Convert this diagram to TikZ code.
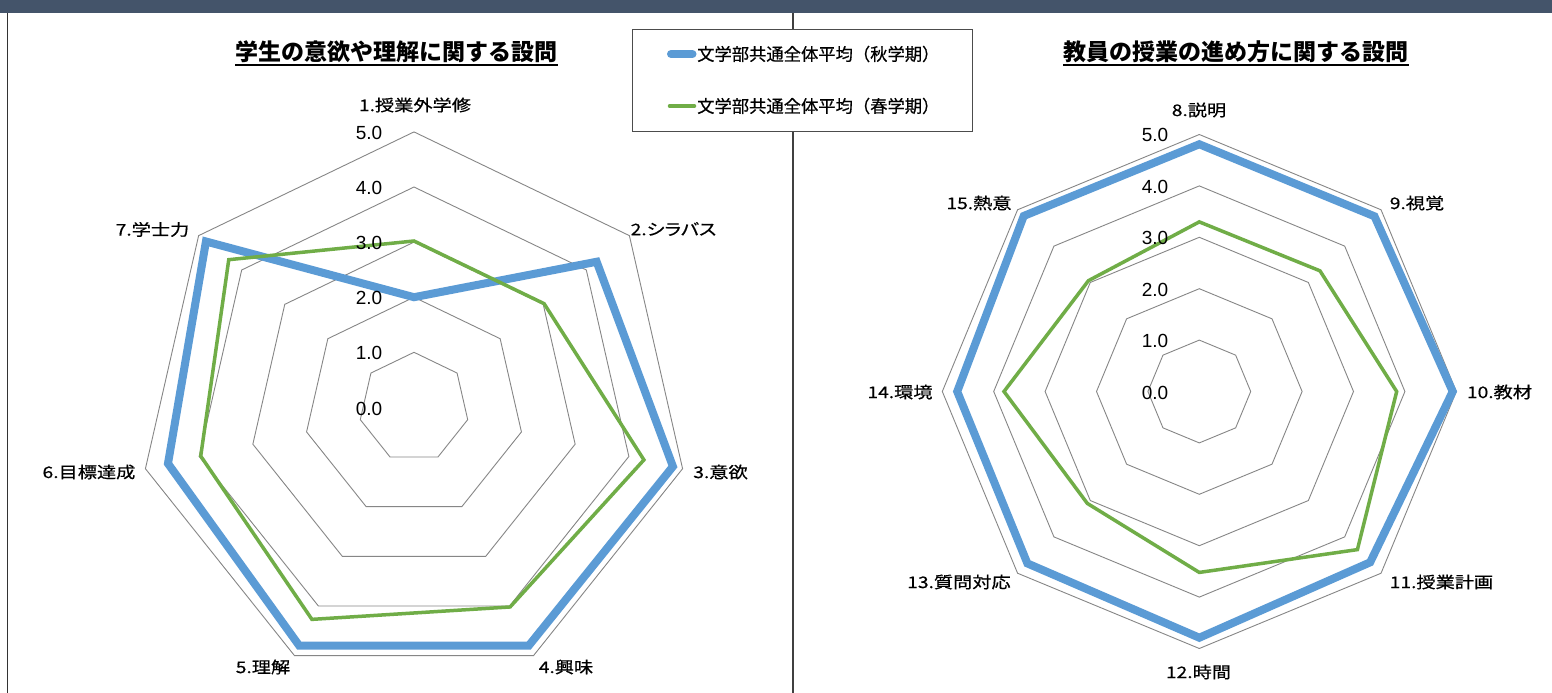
\documentclass[tikz,border=0pt]{standalone}
\usepackage{fontspec}
\setmainfont{Noto Sans CJK JP}
\newfontfamily\labfont[FakeStretch=1.2,FakeBold=0.6]{Noto Sans CJK JP}
\newfontfamily\legfont[FakeBold=0.5]{Noto Sans CJK JP}
\newfontfamily\numfont{Liberation Sans}
\definecolor{barc}{HTML}{44546A}
\definecolor{serA}{HTML}{5B9BD5}
\definecolor{serB}{HTML}{70AD47}
\definecolor{ringc}{HTML}{868686}
\begin{document}
\begin{tikzpicture}[x=1pt,y=-1pt,
  ring/.style={draw=ringc, line width=0.9pt},
  serblue/.style={draw=serA, line width=8pt, line join=miter},
  sergreen/.style={draw=serB, line width=3.5pt, line join=miter},
  axlab/.style={font=\labfont\fontsize{16}{18}\selectfont, inner sep=0pt},
  tick/.style={font=\numfont\fontsize{19}{22}\selectfont, inner sep=0pt},
  ttl/.style={font=\bfseries\fontsize{23}{26}\selectfont, inner sep=0pt, anchor=base},
  legtxt/.style={font=\legfont\fontsize{17.3}{20}\selectfont, inner sep=0pt, anchor=west},
  uline/.style={line width=1.8pt, draw=black}]
\useasboundingbox (0,0) rectangle (1552,693);
\fill[white] (0,0) rectangle (1552,693);
\fill[barc] (0,0) rectangle (1552,13);
\draw[line width=1.6pt, draw=black!80] (7.5,13) -- (7.5,693);
\draw[line width=1.2pt, draw=black!75] (793,13) -- (793,693);

% ---------- left chart ----------
\begin{scope}[shift={(414,407.4)}]
  \foreach \r in {1,...,5}{
    \draw[ring] (90:{\r*55.1pt}) \foreach \k in {1,...,6}{ -- ({90-\k*360/7}:{\r*55.1pt})} -- cycle;
  }
  \foreach \v [count=\k from 0] in {2.0,4.24,4.82,4.8,4.8,4.58,4.83}
    \coordinate (LB\k) at ({90-\k*360/7}:{\v*55.1pt});
  \foreach \v [count=\k from 0] in {3.02,3.02,4.28,4.02,4.27,3.97,4.3}
    \coordinate (LG\k) at ({90-\k*360/7}:{\v*55.1pt});
  \draw[serblue] (LB0) \foreach \k in {1,...,6}{ -- (LB\k)} -- cycle;
  \draw[sergreen] (LG0) \foreach \k in {1,...,6}{ -- (LG\k)} -- cycle;
\end{scope}
\foreach \t/\yy in {0/408.5, 1/352.5, 2/298, 3/243, 4/188, 5/133}
  \node[tick] (lt\t) at (369,\yy) {\t.0};
\node[axlab] (la1) at (415,105) {1.授業外学修};
\node[axlab] (la2) at (673.5,229) {\addfontfeatures{RawFeature=+palt}2.シラバス};
\node[axlab] (la3) at (720.5,472) {3.意欲};
\node[axlab] (la4) at (566,667) {4.興味};
\node[axlab] (la5) at (263,667) {5.理解};
\node[axlab] (la6) at (89,472) {6.目標達成};
\node[axlab] (la7) at (152.5,229.5) {7.学士力};
\node[ttl] (t1) at (396.5,60) {学生の意欲や理解に関する設問};
\draw[uline] ([yshift=-5pt]t1.base west) -- ([yshift=-5pt]t1.base east);

% ---------- right chart ----------
\begin{scope}[shift={(1199.3,391.5)}]
  \foreach \r in {1,...,5}{
    \draw[ring] (90:{\r*51.4pt}) \foreach \k in {1,...,7}{ -- ({90-\k*45}:{\r*51.4pt})} -- cycle;
  }
  \foreach \v [count=\k from 0] in {4.81,4.82,4.93,4.7,4.79,4.73,4.71,4.83}
    \coordinate (RB\k) at ({90-\k*45}:{\v*51.4pt});
  \foreach \v [count=\k from 0] in {3.3,3.32,3.84,4.35,3.52,3.08,3.8,3.05}
    \coordinate (RG\k) at ({90-\k*45}:{\v*51.4pt});
  \draw[serblue] (RB0) \foreach \k in {1,...,7}{ -- (RB\k)} -- cycle;
  \draw[sergreen] (RG0) \foreach \k in {1,...,7}{ -- (RG\k)} -- cycle;
\end{scope}
\foreach \t/\yy in {0/393, 1/341, 2/290, 3/238, 4/187, 5/135}
  \node[tick] (rt\t) at (1155,\yy) {\t.0};
\node[axlab] (ra8) at (1199,110) {8.説明};
\node[axlab] (ra9) at (1417,203) {9.視覚};
\node[axlab] (ra10) at (1499.5,392) {10.教材};
\node[axlab] (ra11) at (1441.5,582) {11.授業計画};
\node[axlab] (ra12) at (1198.5,672) {12.時間};
\node[axlab] (ra13) at (959,582) {13.質問対応};
\node[axlab] (ra14) at (900,392) {14.環境};
\node[axlab] (ra15) at (979,203) {15.熱意};
\node[ttl] (t2) at (1236,60) {教員の授業の進め方に関する設問};
\draw[uline] ([yshift=-5pt]t2.base west) -- ([yshift=-5pt]t2.base east);

% ---------- legend ----------
\node[draw=black!70, line width=1pt, fill=white, minimum width=340pt, minimum height=102.6pt, inner sep=0pt, anchor=north west] (leg) at (632.3,28.7) {};
\coordinate (kA1) at (671,54);
\coordinate (kA2) at (692.5,54);
\draw[serA, line width=8pt, line cap=round] (kA1) -- (kA2);
\node[legtxt] (lg1) at (697,54) {文学部共通全体平均（秋学期）};
\coordinate (kB1) at (669.5,106);
\coordinate (kB2) at (694.5,106);
\draw[serB, line width=3.5pt, line cap=round] (kB1) -- (kB2);
\node[legtxt] (lg2) at (697,106) {文学部共通全体平均（春学期）};
\end{tikzpicture}
\end{document}
